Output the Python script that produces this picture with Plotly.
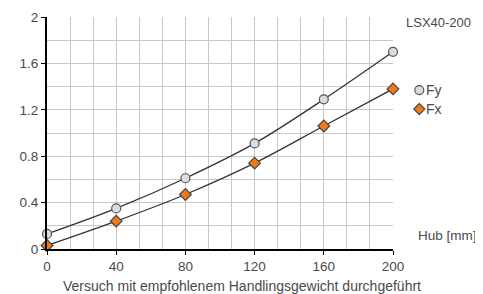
import plotly.graph_objects as go

hub = [0, 40, 80, 120, 160, 200]
fy = [0.13, 0.35, 0.61, 0.91, 1.29, 1.70]
fx = [0.03, 0.24, 0.47, 0.74, 1.06, 1.38]
x_ticks = [0, 40, 80, 120, 160, 200]
y_ticks = [0, 0.4, 0.8, 1.2, 1.6, 2]
y_labels = ["0", "0.4", "0.8", "1.2", "1.6", "2"]
series_names = ["Fy", "Fx"]

font = dict(family="Liberation Sans, Arial, sans-serif", size=13.5, color="#4a4a4a")
line_col = "#333333"
fy_fill, fy_edge = "#dcdce0", "#555555"
fx_fill, fx_edge = "#ee7a1a", "#444444"

fig = go.Figure()
fig.add_trace(go.Scatter(x=hub, y=fy, mode="lines+markers", name=series_names[0], showlegend=False,
                         line=dict(color=line_col, width=1.3, shape="spline"),
                         marker=dict(symbol="circle", size=9, color=fy_fill,
                                     line=dict(color=fy_edge, width=1.2)),
                         cliponaxis=False))
fig.add_trace(go.Scatter(x=hub, y=fx, mode="lines+markers", name=series_names[1], showlegend=False,
                         line=dict(color=line_col, width=1.3, shape="spline"),
                         marker=dict(symbol="diamond", size=9, color=fx_fill,
                                     line=dict(color=fx_edge, width=1.2)),
                         cliponaxis=False))

# manual legend (symbols as shapes, labels as annotations)
leg_x = 1.076
leg_y = [0.685, 0.603]
shapes = [
    dict(type="circle", xref="paper", yref="paper", xsizemode="pixel", ysizemode="pixel",
         xanchor=leg_x, yanchor=leg_y[0], x0=-4.5, x1=4.5, y0=-4.5, y1=4.5,
         fillcolor=fy_fill, line=dict(color=fy_edge, width=1.2)),
    dict(type="path", xref="paper", yref="paper", xsizemode="pixel", ysizemode="pixel",
         xanchor=leg_x, yanchor=leg_y[1], path="M 0,-5.5 L 5.5,0 L 0,5.5 L -5.5,0 Z",
         fillcolor=fx_fill, line=dict(color=fx_edge, width=1.2)),
]
annotations = [
    dict(text=series_names[0], x=leg_x + 0.015, y=leg_y[0], xref="paper", yref="paper",
         xanchor="left", yanchor="middle", showarrow=False, font=dict(size=14)),
    dict(text=series_names[1], x=leg_x + 0.015, y=leg_y[1], xref="paper", yref="paper",
         xanchor="left", yanchor="middle", showarrow=False, font=dict(size=14)),
    dict(text="LSX40-200", x=1.232, y=0.975, xref="paper", yref="paper",
         xanchor="right", yanchor="middle", showarrow=False, font=dict(size=13)),
    dict(text="Hub [mm]", x=1.066, y=0.06, xref="paper", yref="paper",
         xanchor="left", yanchor="middle", showarrow=False, font=dict(size=13.5)),
    dict(text="Versuch mit empfohlenem Handlingsgewicht durchgeführt", x=0.565, y=-0.16,
         xref="paper", yref="paper", xanchor="center", yanchor="middle",
         showarrow=False, font=dict(size=14)),
]

fig.update_layout(
    width=475, height=286,
    margin=dict(l=39, r=90, t=9, b=45, autoexpand=False),
    paper_bgcolor="white", plot_bgcolor="white",
    font=font, showlegend=False,
    shapes=shapes, annotations=annotations,
)
fig.update_xaxes(range=[0, 200], tickvals=x_ticks, ticks="outside", ticklen=4, tickcolor="black",
                 showline=True, linecolor="black", linewidth=2, showgrid=True,
                 gridcolor="#c8c8c8", gridwidth=1, zeroline=False,
                 minor=dict(dtick=40/3, tick0=0, showgrid=True, gridcolor="#c8c8c8", gridwidth=1),
                 fixedrange=True)
fig.update_yaxes(range=[0, 2], tickvals=y_ticks, ticktext=y_labels, ticks="outside", ticklen=4,
                 tickcolor="black", showline=True, linecolor="black", linewidth=2, showgrid=True,
                 gridcolor="#c8c8c8", gridwidth=1, zeroline=False,
                 minor=dict(dtick=0.2, tick0=0, showgrid=True, gridcolor="#c8c8c8", gridwidth=1),
                 fixedrange=True)

fig.write_html("out.html")
